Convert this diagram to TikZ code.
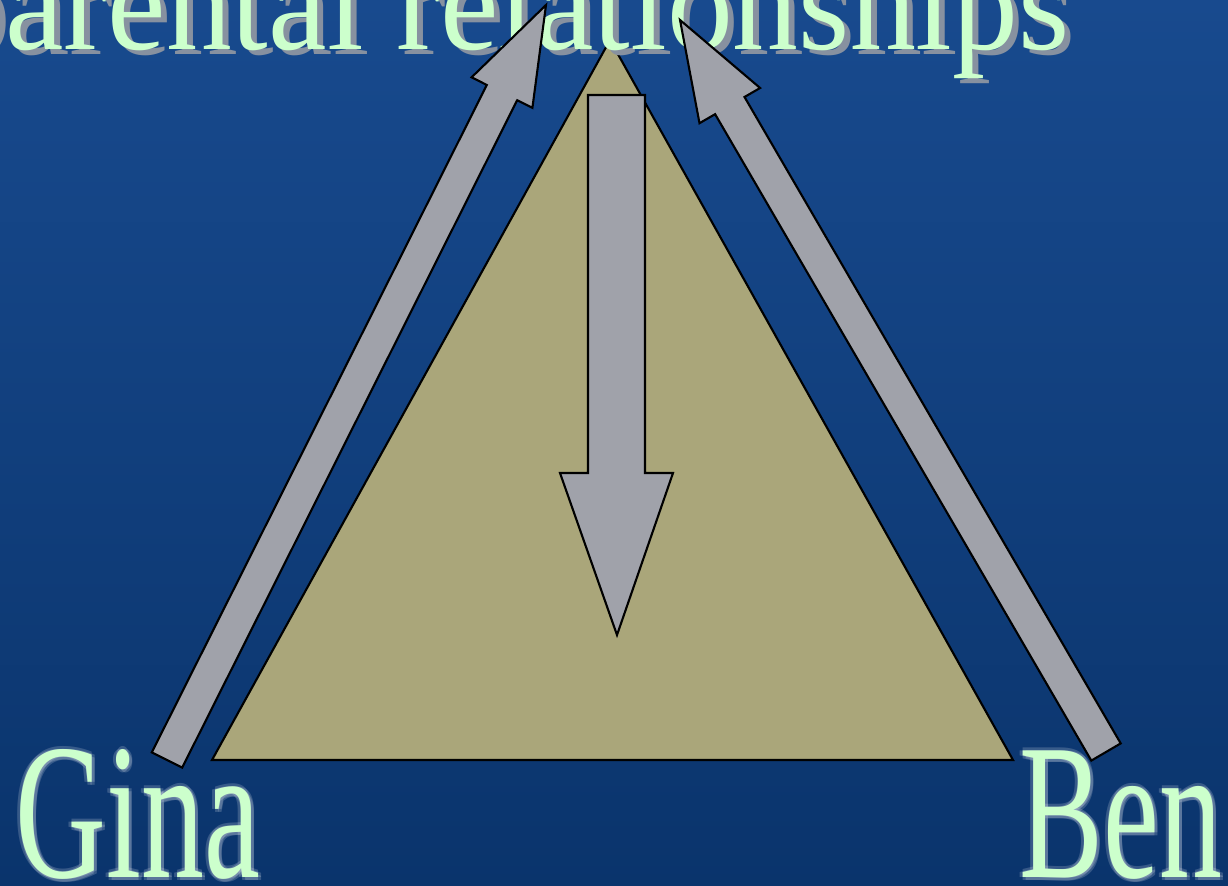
\documentclass[tikz,border=0pt]{standalone}
\usepackage{fontspec}
\setmainfont{Liberation Serif}
\usetikzlibrary{positioning}
\definecolor{slideBG}{RGB}{24,74,142}
\definecolor{slideBGlow}{RGB}{10,52,108}
\definecolor{triTan}{RGB}{170,166,122}
\definecolor{arrowGrey}{RGB}{160,162,170}
\definecolor{titleGreen}{RGB}{204,255,204}
\definecolor{titleShadow}{RGB}{135,145,160}

\tikzset{
  slidetext/.style={text=titleGreen,font=\fontsize{55}{60}\selectfont,inner sep=0pt},
  titletext/.style={text=titleGreen,font=\fontsize{39}{44}\selectfont,inner sep=0pt},
  blockarrow/.style={fill=arrowGrey,draw=black,line width=0.6pt,line join=miter},
  tribox/.style={fill=triTan,draw=black,line width=0.6pt}
}
\newcommand{\narrow}[1]{\scalebox{0.65}[1]{#1}}
\newcommand{\titlewidth}[1]{\scalebox{0.96}[1]{#1}}

\begin{document}
\begin{tikzpicture}[x=0.01cm,y=-0.01cm]
  \useasboundingbox (0,0) rectangle (1228,886);
  \clip (0,0) rectangle (1228,886);
  \shade[top color=slideBG,bottom color=slideBGlow] (0,0) rectangle (1228,886);

  % triangle
  \coordinate (apex) at (610,40);
  \coordinate (gcorner) at (212,760);
  \coordinate (bcorner) at (1013,760);
  \draw[tribox] (apex) -- (gcorner) -- (bcorner) -- cycle;

  % title, cut off at the top
  \node[titletext,text=titleShadow,anchor=base east] (titleshadow) at (1076,55)
    {\titlewidth{parental relationships}};
  \node[titletext,anchor=base east] (title) at (1070,50)
    {\titlewidth{parental relationships}};

  % names with a soft glow
  \foreach \dx/\dy in {-3/0,3/0,0/-3,0/3,3/3}{
    \node[slidetext,text=white,opacity=0.18,anchor=base west] at (15+\dx,877+\dy) {\narrow{Gina}};
    \node[slidetext,text=white,opacity=0.18,anchor=base east] at (1223+\dx,877+\dy) {\narrow{Ben}};
  }
  \node[slidetext,anchor=base west] (gina) at (15,877) {\narrow{Gina}};
  \node[slidetext,anchor=base east] (ben) at (1223,877) {\narrow{Ben}};

  % block arrows
  \draw[blockarrow] (151.8,752.4) -- (486.8,85.0) -- (471.6,77.3) -- (546,5)
    -- (532.4,107.9) -- (517.2,100.2) -- (182.2,767.6) -- cycle;
  \draw[blockarrow] (1091.3,760.6) -- (715.1,114.2) -- (699.5,123.2) -- (680,20)
    -- (760.1,88.0) -- (744.5,97.0) -- (1120.7,743.4) -- cycle;
  \draw[blockarrow] (588,95) -- (588,473) -- (560,473) -- (617,635)
    -- (673,473) -- (645,473) -- (645,95) -- cycle;
\end{tikzpicture}
\end{document}
